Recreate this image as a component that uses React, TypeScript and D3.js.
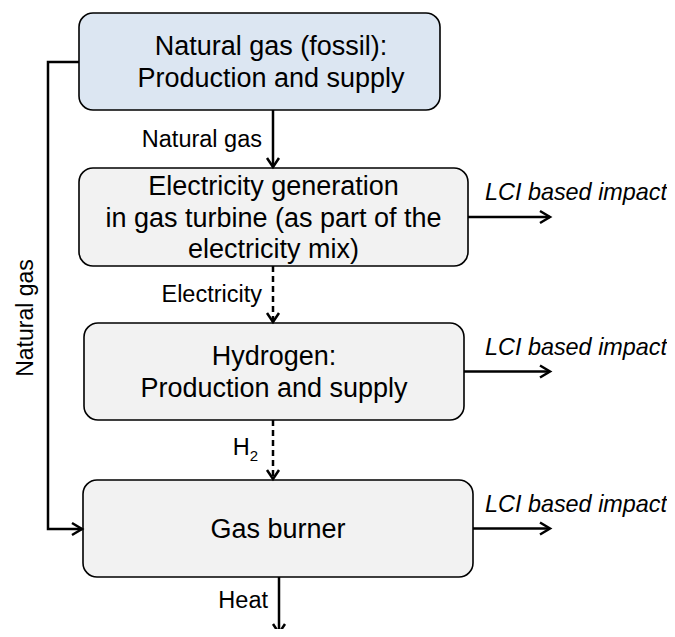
import React from 'react';
import * as d3 from 'd3';

// process boxes, top to bottom
const boxIds = ['ng', 'elec', 'h2', 'burner'];
const boxLines = [
  ['Natural gas (fossil):', 'Production and supply'],
  ['Electricity generation', 'in gas turbine (as part of the', 'electricity mix)'],
  ['Hydrogen:', 'Production and supply'],
  ['Gas burner'],
];
const boxFills = ['#dce6f2', '#f2f2f2', '#f2f2f2', '#f2f2f2'];

// flows between boxes
const flowLabels = ['Natural gas', 'Electricity', 'H', 'Heat'];
const flowDashed = [false, true, true, false];
const impactLabel = 'LCI based impact';
const impactFrom = ['elec', 'h2', 'burner'];
const bypassLabel = 'Natural gas';

// layout (pixels)
const layout: Record<string, { x0: number; x1: number; y0: number; y1: number; tx: number }> = {
  ng: { x0: 79, x1: 440, y0: 13, y1: 110, tx: 271 },
  elec: { x0: 79, x1: 468, y0: 168, y1: 266, tx: 273.5 },
  h2: { x0: 84, x1: 464, y0: 323, y1: 420, tx: 274 },
  burner: { x0: 83, x1: 473, y0: 480, y1: 577, tx: 278 },
};

const FONT = 'Arial, "Liberation Sans", sans-serif';

const Head = ({ x, y, dir }: { x: number; y: number; dir: 'down' | 'right' }) => {
  const p = d3.path();
  if (dir === 'down') {
    p.moveTo(x - 6, y - 9);
    p.lineTo(x, y);
    p.lineTo(x + 6, y - 9);
  } else {
    p.moveTo(x - 10, y - 6);
    p.lineTo(x, y);
    p.lineTo(x - 10, y + 6);
  }
  return <path d={p.toString()} fill="none" stroke="#000" strokeWidth={2.5} strokeLinejoin="miter" />;
};

export default function App() {
  const lineH = 31.5;
  const flowX = 273;
  const flows = [
    { x: flowX, y0: layout.ng.y1, y1: layout.elec.y0, ly: 147, lx: 11 },
    { x: flowX, y0: layout.elec.y1, y1: layout.h2.y0, ly: 302, lx: 11 },
    { x: flowX, y0: layout.h2.y1, y1: layout.burner.y0, ly: 455, lx: 15 },
    { x: 279, y0: layout.burner.y1, y1: 634, ly: 608, lx: 11 },
  ];
  const bypassX = 48;
  const bypassY0 = 62;
  const bypassY1 = 529;

  return (
    <svg width={675} height={629} style={{ display: 'block', margin: '-8px 0 0 -8px', overflow: 'visible' }}>
      <g fontFamily={FONT}>
        {boxIds.map((id, i) => {
          const b = layout[id];
          const cy = (b.y0 + b.y1) / 2;
          const n = boxLines[i].length;
          return (
            <g key={id}>
              <rect x={b.x0} y={b.y0} width={b.x1 - b.x0} height={b.y1 - b.y0} rx={14}
                fill={boxFills[i]} stroke="#000" strokeWidth={1.6} />
              {boxLines[i].map((t, j) => (
                <text key={j} x={b.tx} y={cy + (j - (n - 1) / 2) * lineH} dy="0.36em"
                  textAnchor="middle" fontSize={27} fill="#000">{t}</text>
              ))}
            </g>
          );
        })}

        {flows.map((f, i) => (
          <g key={i}>
            <line x1={f.x} x2={f.x} y1={f.y0} y2={f.y1 - 1}
              stroke="#000" strokeWidth={2.5} strokeDasharray={flowDashed[i] ? '6,4' : undefined} />
            <Head x={f.x} y={f.y1 - 1} dir="down" />
            <text x={f.x - f.lx} y={f.ly} textAnchor="end" fontSize={23.5}>
              {flowLabels[i]}
              {i === 2 ? <tspan fontSize={15} dy={6}>2</tspan> : null}
            </text>
          </g>
        ))}

        {impactFrom.map((id) => {
          const b = layout[id];
          const y = (b.y0 + b.y1) / 2;
          return (
            <g key={id}>
              <line x1={b.x1} x2={550} y1={y} y2={y} stroke="#000" strokeWidth={2.5} />
              <Head x={550} y={y} dir="right" />
              <text x={485} y={y - 17} fontSize={23.4} fontStyle="italic">{impactLabel}</text>
            </g>
          );
        })}

        <path d={`M${layout.ng.x0},${bypassY0}H${bypassX}V${bypassY1}H${layout.burner.x0 - 1}`}
          fill="none" stroke="#000" strokeWidth={2.5} />
        <Head x={layout.burner.x0 - 1} y={bypassY1} dir="right" />
        <text transform={`translate(33,${318}) rotate(-90)`}
          textAnchor="middle" fontSize={23}>{bypassLabel}</text>
      </g>
    </svg>
  );
}
